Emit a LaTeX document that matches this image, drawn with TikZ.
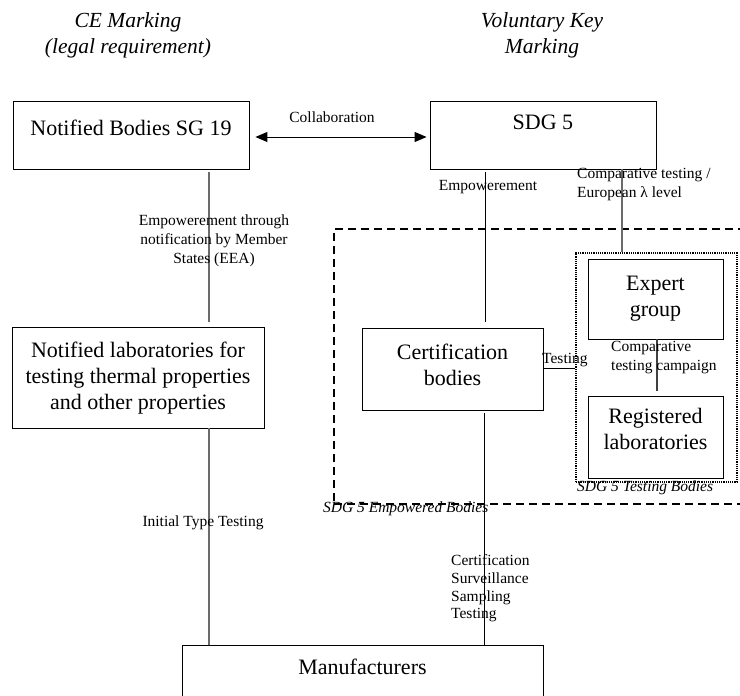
\documentclass[tikz,border=0pt]{standalone}
\usepackage{fontspec}
\setmainfont{Liberation Serif}
\usetikzlibrary{arrows.meta,calc}
\tikzset{
  boxnode/.style={draw=black, line width=0.9pt, rectangle, inner sep=0pt},
  boxtext/.style={inner sep=0pt, align=center, font=\fontsize{22}{26}\selectfont},
  headtext/.style={inner sep=0pt, align=center, font=\fontsize{21.5}{26}\selectfont\itshape},
  lbl/.style={inner sep=0pt, font=\fontsize{15.5}{19}\selectfont},
  grpname/.style={inner sep=0pt, font=\fontsize{15.5}{19}\selectfont\itshape},
  blackline/.style={draw=black, line width=1pt},
  grayline/.style={draw=black!58, line width=1.2pt},
  dkline/.style={draw=black!75, line width=1.1pt},
  dashbox/.style={draw=black, line width=1.6pt, dash pattern=on 8pt off 5pt, rectangle, inner sep=0pt},
  dotbox/.style={draw=black, line width=1.6pt, dash pattern=on 1.2pt off 1pt, rectangle, inner sep=0pt}
}
\begin{document}
\begin{tikzpicture}[x=1pt,y=-1pt]
\useasboundingbox (0,0) rectangle (740,696);
% headers
\node[headtext] (hce) at (128,35) {CE Marking\\(legal requirement)};
\node[headtext] (hvk) at (542,35) {Voluntary Key\\Marking};
% group frames
\node[dashbox, minimum width=426pt, minimum height=275pt] (eb) at (547,366.5) {};
\node[dotbox, minimum width=161pt, minimum height=229pt] (tb) at (656.5,367.5) {};
% boxes
\node[boxnode, minimum width=236pt, minimum height=68pt] (nb) at (131,135) {};
\node[boxtext] (nbt) at (131,128) {Notified Bodies SG 19};
\node[boxnode, minimum width=226pt, minimum height=68pt] (sdg) at (543,135) {};
\node[boxtext] (sdgt) at (543,122) {SDG 5};
\node[boxnode, minimum width=252pt, minimum height=101pt] (nl) at (138,377.5) {};
\node[boxtext] (nlt) at (138,378) {Notified laboratories for\\testing thermal properties\\and other properties};
\node[boxnode, minimum width=181pt, minimum height=82pt] (cert) at (452.5,369) {};
\node[boxtext] (certt) at (452.5,365) {Certification\\bodies};
\node[boxnode, minimum width=135pt, minimum height=80pt] (expert) at (655.5,299) {};
\node[boxtext] (expertt) at (655.5,298.5) {Expert\\group};
\node[boxnode, minimum width=135pt, minimum height=82pt] (reg) at (655.5,437) {};
\node[boxtext] (regt) at (655.5,429) {Registered\\laboratories};
\node[boxnode, minimum width=361pt, minimum height=75pt] (manu) at (362.5,682.5) {};
\node[boxtext] (manut) at (362.5,667) {Manufacturers};
% connectors
\draw[blackline, {Triangle[length=12pt,width=10pt]}-{Triangle[length=12pt,width=10pt]}]
  ($(nb.east)+(6,2)$) -- ($(sdg.west)+(-3,2)$);
\draw[grayline] ($(nb.south)+(78,3)$) -- ($(nl.north)+(71,-5)$);
\draw[grayline] ($(nl.south)+(71,0)$) -- ($(manu.north)+(-153.5,0)$);
\draw[blackline] ($(sdg.south)+(-58,3)$) -- ($(cert.north)+(32.5,-6)$);
\draw[grayline] ($(sdg.south)+(79,0)$) -- ($(tb.north)+(-34.5,0)$);
\draw[blackline] ($(cert.east)+(0,-1)$) -- ($(tb.west)+(0,0.5)$);
\draw[dkline] ($(expert.south)+(1.5,0)$) -- ($(reg.north)+(1.5,-5)$);
\draw[blackline] ($(cert.south)+(31.5,3)$) -- ($(manu.north)+(121.5,0)$);
% labels
\node[lbl] (lcol) at (332,117) {Collaboration};
\node[lbl, align=center] (lemp1) at (214,241) {Empowerement through\\notification by Member\\States (EEA)};
\node[lbl] (lemp2) at (488,187) {Empowerement};
\node[lbl, align=left, anchor=west] (lcmp) at (577,185) {Comparative testing /\\European λ level};
\node[lbl, anchor=west] (ltst) at (542,360) {Testing};
\node[lbl, align=left, anchor=west, font=\fontsize{15.5}{19}\selectfont] (lcmpc) at (611,357.5) {Comparative\\testing campaign};
\node[lbl] (lity) at (203,523) {Initial Type Testing};
\node[lbl, align=left, anchor=west, font=\fontsize{15.5}{17.7}\selectfont] (lcert) at (451,588.5) {Certification\\Surveillance\\Sampling\\Testing};
\node[grpname, anchor=west] (ltb) at (577,488) {SDG 5 Testing Bodies};
\node[grpname, anchor=west] (leb) at (323,509) {SDG 5 Empowered Bodies};
\end{tikzpicture}
\end{document}
